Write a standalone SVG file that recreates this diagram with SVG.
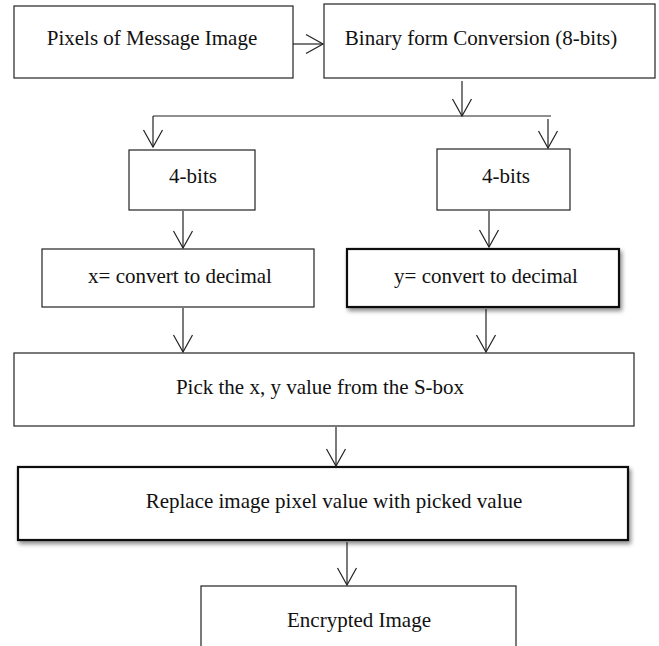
<svg xmlns="http://www.w3.org/2000/svg" width="659" height="646" viewBox="0 0 659 646">
<defs>
<style>
.box{fill:#fff;stroke:#222;stroke-width:1.2}
.bold{fill:#fff;stroke:#111;stroke-width:2.2;filter:url(#sh)}
.t{font-family:"Liberation Serif","Times New Roman",serif;font-size:21px;fill:#111;text-anchor:middle}
.c{fill:none;stroke:#222;stroke-width:1.2}
</style>
<marker id="ah" markerUnits="userSpaceOnUse" viewBox="-18 -11 20 22" refX="0" refY="0" markerWidth="20" markerHeight="22" orient="auto" overflow="visible">
<path d="M-17,-9.5 L0,0 L-17,9.5" fill="none" stroke="#222" stroke-width="1.2"/>
</marker>
<filter id="sh" x="-10%" y="-20%" width="130%" height="160%">
<feDropShadow dx="2" dy="3" stdDeviation="2" flood-color="#000" flood-opacity="0.45"/>
</filter>
</defs>
<rect width="659" height="646" fill="#fff"/>
<g id="n1"><rect class="box" x="14" y="6" width="279" height="72"/><text class="t" x="152" y="45">Pixels of Message Image</text></g>
<g id="n2"><rect class="box" x="324" y="4" width="331" height="74"/><text class="t" x="481" y="45">Binary form Conversion (8-bits)</text></g>
<g id="n3"><rect class="box" x="129" y="150" width="126" height="60"/><text class="t" x="193" y="183">4-bits</text></g>
<g id="n4"><rect class="box" x="437" y="149" width="133" height="61"/><text class="t" x="506" y="183">4-bits</text></g>
<g id="n5"><rect class="box" x="42" y="249" width="272" height="58"/><text class="t" x="180" y="283">x= convert to decimal</text></g>
<g id="n6"><rect class="bold" x="347" y="249" width="272" height="58"/><text class="t" x="486" y="283">y= convert to decimal</text></g>
<g id="n7"><rect class="box" x="14" y="353" width="620" height="73"/><text class="t" x="320" y="394">Pick the x, y value from the S-box</text></g>
<g id="n8"><rect class="bold" x="18" y="467" width="610" height="73"/><text class="t" x="334" y="508">Replace image pixel value with picked value</text></g>
<g id="n9"><rect class="box" x="201" y="586" width="315" height="80"/><text class="t" x="359" y="627">Encrypted Image</text></g>
<g id="connectors">
<line class="c" x1="293" y1="44" x2="323" y2="44" marker-end="url(#ah)"/>
<line class="c" x1="462" y1="81" x2="462" y2="116" marker-end="url(#ah)"/>
<line class="c" x1="153" y1="116" x2="551" y2="116"/>
<line class="c" x1="153" y1="116" x2="153" y2="147" marker-end="url(#ah)"/>
<line class="c" x1="548" y1="119" x2="548" y2="148" marker-end="url(#ah)"/>
<line class="c" x1="183" y1="211" x2="183" y2="248" marker-end="url(#ah)"/>
<line class="c" x1="489" y1="211" x2="489" y2="247" marker-end="url(#ah)"/>
<line class="c" x1="183" y1="308" x2="183" y2="352" marker-end="url(#ah)"/>
<line class="c" x1="486" y1="309" x2="486" y2="352" marker-end="url(#ah)"/>
<line class="c" x1="336" y1="427" x2="336" y2="466" marker-end="url(#ah)"/>
<line class="c" x1="347" y1="542" x2="347" y2="585" marker-end="url(#ah)"/>
</g>
</svg>
